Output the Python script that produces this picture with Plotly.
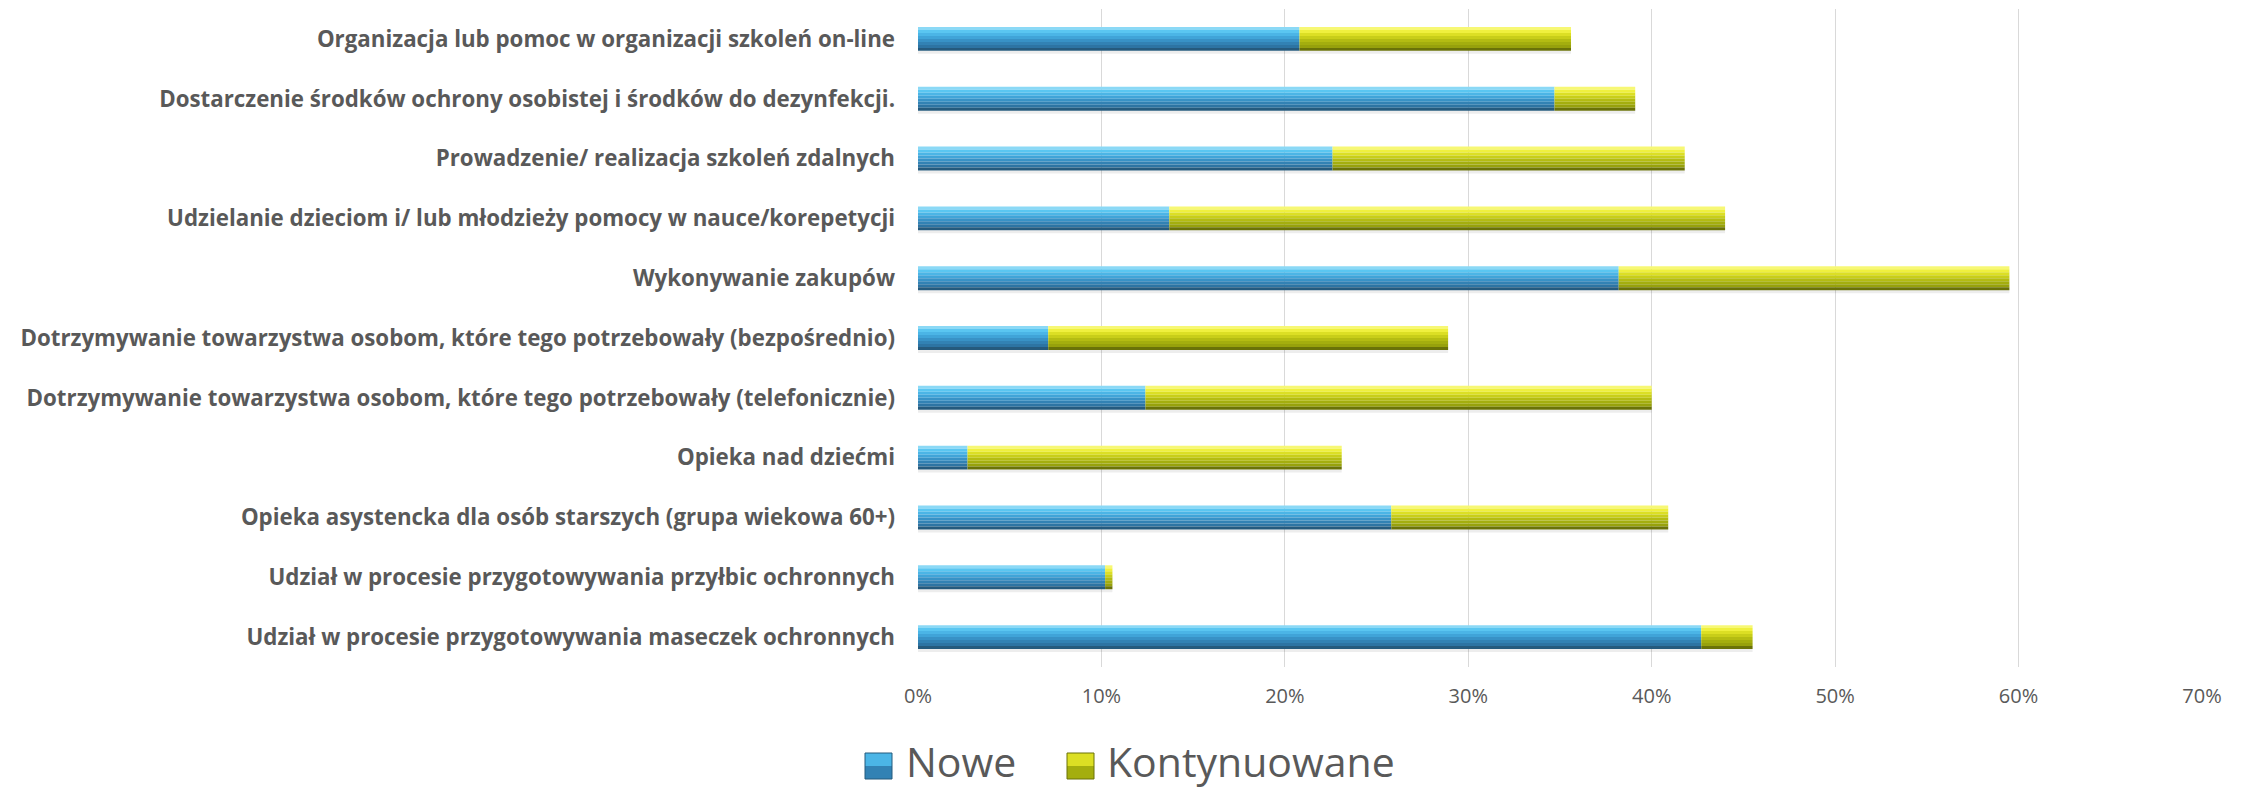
import plotly.graph_objects as go

# categories top to bottom
categories = [
    "Organizacja lub pomoc w organizacji szkoleń on-line",
    "Dostarczenie środków ochrony osobistej i środków do dezynfekcji.",
    "Prowadzenie/ realizacja szkoleń zdalnych",
    "Udzielanie dzieciom i/ lub młodzieży pomocy w nauce/korepetycji",
    "Wykonywanie zakupów",
    "Dotrzymywanie towarzystwa osobom, które tego potrzebowały (bezpośrednio)",
    "Dotrzymywanie towarzystwa osobom, które tego potrzebowały (telefonicznie)",
    "Opieka nad dziećmi",
    "Opieka asystencka dla osób starszych (grupa wiekowa 60+)",
    "Udział w procesie przygotowywania przyłbic ochronnych",
    "Udział w procesie przygotowywania maseczek ochronnych",
]
nowe = [20.8, 34.7, 22.6, 13.7, 38.2, 7.1, 12.4, 2.7, 25.8, 10.2, 42.7]
kontynuowane = [14.8, 4.4, 19.2, 30.3, 21.3, 21.8, 27.6, 20.4, 15.1, 0.4, 2.8]
series_names = ["Nowe", "Kontynuowane"]
x_ticks = [0, 10, 20, 30, 40, 50, 60, 70]
x_tick_labels = ["0%", "10%", "20%", "30%", "40%", "50%", "60%", "70%"]

# shading strips, top edge -> bottom edge, to fake the bevelled look
BLUE_SHADES = ["#8bd9f6", "#5ac6f1", "#4bb5e6", "#40a4d8", "#3892c6", "#3282b4", "#2d74a3", "#255a7d"]
YELLOW_SHADES = ["#f7f874", "#eff03e", "#dcdf24", "#c8ce19", "#b4bc12", "#a4ae0e", "#97a10c", "#6a7208"]
TEXT = "#595959"

W, H = 2244, 789
L, R, T, B = 918, 42, 9, 122
BAR_W = 0.4

fig = go.Figure()


def add_series(values, base, shades):
    n = len(shades)
    for i, col in enumerate(shades):
        fig.add_trace(go.Bar(
            y=categories, x=values, base=base, orientation="h",
            width=BAR_W / n, offset=-BAR_W / 2 + i * BAR_W / n,
            marker=dict(color=col, line=dict(width=0)),
            showlegend=False, hoverinfo="skip",
        ))


totals = [a + b for a, b in zip(nowe, kontynuowane)]
# soft shadow under each bar
fig.add_trace(go.Bar(
    y=categories, x=totals, orientation="h", width=0.05, offset=BAR_W / 2,
    marker=dict(color="rgba(0,0,0,0.07)", line=dict(width=0)),
    showlegend=False, hoverinfo="skip",
))
add_series(nowe, [0] * len(nowe), BLUE_SHADES)
add_series(kontynuowane, nowe, YELLOW_SHADES)

fig.update_layout(
    width=W, height=H,
    margin=dict(l=L, r=R, t=T, b=B, autoexpand=False),
    barmode="overlay",
    plot_bgcolor="white", paper_bgcolor="white",
    font=dict(family="Open Sans", color=TEXT),
    xaxis=dict(
        range=[0, 70], tickvals=x_ticks, ticktext=x_tick_labels,
        showgrid=True, gridcolor="#d9d9d9", gridwidth=1.3, zeroline=False,
        showline=False, ticks="", tickfont=dict(size=20, color=TEXT),
        ticklabelstandoff=15,
    ),
    yaxis=dict(
        autorange="reversed", showgrid=False, ticks="", showline=False,
        tickfont=dict(size=22.3, color=TEXT, family="Open Sans", weight="bold"),
        ticklabelstandoff=22,
    ),
)

# manual legend with large square swatches
plot_w = W - L - R
plot_h = H - T - B


def px_x(p):
    return (p - L) / plot_w


def px_y(p):
    return (H - B - p) / plot_h


legend_items = [(865, 905, BLUE_SHADES), (1067, 1106, YELLOW_SHADES)]
for name, (sx, tx, shades) in zip(series_names, legend_items):
    fig.add_shape(type="rect", xref="paper", yref="paper",
                  x0=px_x(sx), x1=px_x(sx + 27), y0=px_y(779), y1=px_y(766),
                  fillcolor=shades[5], line=dict(width=0))
    fig.add_shape(type="rect", xref="paper", yref="paper",
                  x0=px_x(sx), x1=px_x(sx + 27), y0=px_y(766), y1=px_y(753),
                  fillcolor=shades[2], line=dict(width=0))
    fig.add_shape(type="rect", xref="paper", yref="paper",
                  x0=px_x(sx), x1=px_x(sx + 27), y0=px_y(779), y1=px_y(753),
                  fillcolor="rgba(0,0,0,0)", line=dict(width=1, color=shades[-1]))
    fig.add_annotation(text=name, xref="paper", yref="paper",
                       x=px_x(tx), y=px_y(761), xanchor="left", yanchor="middle",
                       showarrow=False, borderpad=0,
                       font=dict(size=41, color=TEXT, family="Open Sans"))

fig.write_html("out.html", config={"displayModeBar": False},
               post_script="document.body.style.margin='0';")
